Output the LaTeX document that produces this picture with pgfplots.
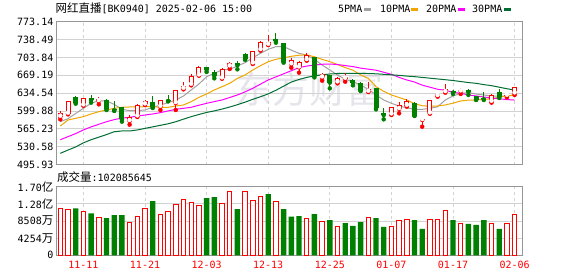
\documentclass[border=0pt]{standalone}
\usepackage{fontspec}
\setmainfont{DejaVu Sans Mono}
\newfontfamily\cjk{Noto Sans CJK SC}
\usepackage{pgfplots}
\usepackage{pgfplotstable}
\pgfplotsset{compat=1.18}
\definecolor{upc}{RGB}{255,0,0}
\definecolor{dnc}{RGB}{0,128,0}
\definecolor{ma5c}{RGB}{160,160,160}
\definecolor{ma10c}{RGB}{240,165,0}
\definecolor{ma20c}{RGB}{255,0,255}
\definecolor{ma30c}{RGB}{0,110,50}
\definecolor{gridc}{RGB}{210,210,210}
\definecolor{framec}{RGB}{150,150,150}
\definecolor{wmc}{RGB}{229,229,235}
\newcommand{\cj}[1]{{\cjk\fontsize{11.5}{12}\selectfont #1}}

% i open high low close
\pgfplotstableread{
i o h l c
0 588.8 599.8 583.6 595.9
1 594.6 619.8 593.3 618.5
3 610.8 625.0 610.1 624.4
5 619.2 626.3 612.7 623.1
9 580.4 592.0 573.3 588.8
10 589.4 613.4 588.1 612.1
11 612.7 621.8 611.4 619.2
13 608.2 621.8 601.7 620.5
15 615.3 641.2 601.7 639.9
16 643.1 655.4 641.8 647.7
17 650.9 671.6 649.6 667.7
18 669.0 687.1 668.4 685.8
21 663.2 682.6 662.5 682.0
22 686.5 695.5 681.3 692.3
25 692.3 716.9 691.0 715.6
26 718.2 735.6 716.9 733.1
27 728.5 747.3 727.9 733.7
30 690.7 702.0 683.9 699.0
31 684.5 696.8 674.2 694.9
32 698.8 711.7 697.5 708.0
34 665.1 672.9 658.7 672.3
36 655.4 665.1 653.5 663.9
37 662.6 672.9 656.7 665.1
40 637.3 656.7 636.7 641.9
43 593.3 608.2 592.0 606.9
44 603.7 617.9 595.3 611.5
45 610.2 622.5 608.2 619.2
47 582.3 588.8 569.4 584.9
48 595.3 621.2 594.6 620.5
49 628.9 634.7 627.6 632.8
50 636.7 652.2 635.4 641.9
52 638.0 644.5 632.8 639.9
56 617.9 632.8 616.0 631.5
58 629.6 634.7 626.3 631.5
59 634.1 647.0 630.9 645.7
}\redc
\pgfplotstableread{
i o h l c
2 627.0 628.9 614.0 616.0
4 624.4 630.2 616.0 621.1
6 621.1 623.1 601.7 603.7
7 603.7 619.8 599.8 601.1
8 606.9 608.2 579.1 583.6
12 617.9 628.9 605.6 606.9
14 621.8 630.8 618.5 619.2
19 684.5 685.2 675.5 680.0
20 676.1 679.4 663.2 668.4
23 692.3 696.8 680.7 688.4
24 709.8 713.0 698.8 700.7
28 739.5 751.8 732.4 735.6
29 731.1 731.1 693.6 695.5
33 705.0 705.3 665.1 667.7
35 669.7 669.7 643.8 654.8
38 660.0 661.3 649.6 654.8
39 654.8 656.7 638.6 639.3
41 643.8 645.1 603.0 605.0
42 596.6 605.0 583.6 592.0
46 616.0 617.9 590.1 590.7
51 639.3 640.6 632.8 635.4
53 640.6 642.5 630.9 636.7
54 628.3 629.6 621.2 621.8
55 625.7 636.0 621.2 622.5
57 636.7 641.9 625.0 626.3
}\greenc
% moving averages
\pgfplotstableread{
i a5 a10 a20 a30
0 579.0 570.7 544.0 517.6
1 585.0 582.3 550.0 524.0
2 595.0 585.6 556.0 530.0
3 605.0 588.8 563.0 538.0
4 614.7 594.0 569.0 544.0
5 619.9 598.5 574.0 549.0
6 619.2 601.8 579.0 554.0
7 612.7 605.0 583.0 559.5
8 603.0 607.0 586.0 561.0
9 600.5 607.6 587.5 561.0
10 600.5 607.6 590.0 563.0
11 601.8 608.2 592.0 566.0
12 606.9 608.2 594.0 569.0
13 611.5 606.9 596.6 572.0
14 616.0 606.9 600.0 575.0
15 621.2 609.5 603.0 579.0
16 628.9 611.5 605.0 584.0
17 640.6 617.9 607.0 588.8
18 652.2 626.3 611.0 593.0
19 666.4 632.8 614.7 597.0
20 672.9 640.6 618.0 600.0
21 679.4 647.0 621.2 603.5
22 680.7 653.5 626.0 607.5
23 687.1 663.2 630.9 612.0
24 693.6 669.7 637.0 617.0
25 703.3 679.4 643.8 622.5
26 711.7 687.8 652.0 627.5
27 719.5 695.5 660.0 633.0
28 724.7 700.1 666.0 640.0
29 724.7 703.0 672.0 648.0
30 718.0 706.0 678.0 656.0
31 711.7 708.0 684.0 661.0
32 708.5 709.0 687.0 665.0
33 700.1 705.0 689.0 668.0
34 689.1 700.0 690.5 670.0
35 679.4 695.6 691.0 671.6
36 669.7 690.0 690.0 672.5
37 661.3 684.0 688.0 673.0
38 656.7 679.0 686.0 673.0
39 650.3 670.0 683.0 673.0
40 641.9 663.0 681.0 672.5
41 630.9 647.0 679.0 672.0
42 621.2 638.0 675.0 671.0
43 614.7 631.0 671.0 670.0
44 609.5 626.0 665.0 669.0
45 606.0 621.2 660.0 667.5
46 603.0 614.0 656.0 666.5
47 603.0 610.0 650.0 665.0
48 605.0 609.0 646.0 663.5
49 608.0 609.5 642.0 662.0
50 621.2 611.5 640.0 660.5
51 628.9 615.0 636.0 659.0
52 634.1 619.2 634.0 657.0
53 635.4 621.0 631.0 655.0
54 632.8 621.2 629.0 653.5
55 630.9 622.5 627.0 651.0
56 628.9 623.5 625.0 649.0
57 628.9 626.5 623.5 646.0
58 628.9 629.0 622.0 643.0
59 630.9 630.9 621.0 640.5
}\ma
% volume in units of 10^4 shares
\pgfplotstableread{
i v
0 11647
1 11399
3 10903
5 9416
9 8260
10 9664
11 11647
13 10160
14 10986
15 12720
16 13877
17 13216
18 12390
21 12886
22 15859
24 15859
25 13629
26 14620
28 13464
32 9251
34 8508
36 7186
40 9416
43 7021
44 8673
45 8921
48 8921
49 8921
50 11234
52 7930
56 7930
58 7930
59 10208
}\redv
\pgfplotstableread{
i v
2 11647
4 10408
6 9251
7 9995
8 9995
12 13464
19 14207
20 14455
23 11481
27 15198
29 11481
30 9582
31 9747
33 10242
35 8756
37 8012
38 7269
39 8260
41 9251
42 7021
46 8756
47 6525
51 8756
53 7764
54 7517
55 8756
57 6525
}\greenv

\pgfplotsset{
  kframe/.style={
    scale only axis, width=466pt,
    xmin=-0.56, xmax=59.96,
    axis line style={draw=framec, line width=0.9pt},
    major tick length=0pt,
    xtick={3,11,19,27,35,43,51,59},
    xmajorgrids, ymajorgrids,
    x grid style={draw=gridc, line width=0.8pt, dash pattern=on 3pt off 3pt},
    y grid style={draw=gridc, line width=0.8pt},
    tick label style={font=\fontsize{10}{12}\selectfont},
    yticklabel style={inner sep=0pt, xshift=-2.5pt},
    scaled y ticks=false,
  },
  candle/.style 2 args={color=#1, only marks, mark=none, forget plot,
    error bars/.cd, y dir=plus, y explicit, error mark=none,
    error bar style={color=#1, line width=#2, solid}},
}

\begin{document}
\begin{tikzpicture}[x=1pt,y=1pt]
\path[use as bounding box] (0,0) rectangle (578,276);
% watermark
\node[text=wmc, inner sep=0pt] at (309,187) {\cjk\fontsize{37}{37}\selectfont 东方财富};
% title
\node[anchor=base west, inner sep=0pt] at (55.5,263.8) {\cj{网红直播}[BK0940] 2025-02-06 15:00};
% legend
\node[anchor=base west, inner sep=0pt] at (338,263.8) {5PMA};
\fill[ma5c] (364,264.5) rectangle (371,268);
\node[anchor=base west, inner sep=0pt] at (380,263.8) {10PMA};
\fill[ma10c] (411,264.5) rectangle (418,268);
\node[anchor=base west, inner sep=0pt] at (426,263.8) {20PMA};
\fill[ma20c] (458,264.5) rectangle (465,268);
\node[anchor=base west, inner sep=0pt] at (472,263.8) {30PMA};
\fill[ma30c] (504,264.5) rectangle (511,268);
% volume caption
\node[anchor=base west, inner sep=0pt] at (57,94.8) {\cj{成交量}:102085645};

\begin{axis}[kframe, at={(56pt,111.5pt)}, anchor=south west, height=142.8pt,
  ymin=495.93, ymax=773.14,
  xticklabels={},
  ytick={495.93,530.58,565.23,599.88,634.54,669.19,703.84,738.49,773.14},
  yticklabels={495.93,530.58,565.23,599.88,634.54,669.19,703.84,738.49,773.14},
]
\addplot[ma5c, line width=1pt, no marks] table[x=i,y=a5] {\ma};
\addplot[ma10c, line width=1pt, no marks] table[x=i,y=a10] {\ma};
\addplot[ma20c, line width=1pt, no marks] table[x=i,y=a20] {\ma};
\addplot[ma30c, line width=1pt, no marks] table[x=i,y=a30] {\ma};
% red (up) candles
\addplot[candle={upc}{1pt}] table[x=i, y=l, y error plus expr=\thisrow{h}-\thisrow{l}] {\redc};
\addplot[candle={upc}{5pt}] table[x=i, y=o, y error plus expr=\thisrow{c}-\thisrow{o}] {\redc};
\addplot[candle={white}{3pt}] table[x=i, y expr=\thisrow{o}+1.9, y error plus expr={max(\thisrow{c}-\thisrow{o}-3.8,0)}] {\redc};
% green (down) candles
\addplot[candle={dnc}{1pt}] table[x=i, y=l, y error plus expr=\thisrow{h}-\thisrow{l}] {\greenc};
\addplot[candle={dnc}{5pt}] table[x=i, y=c, y error plus expr=\thisrow{o}-\thisrow{c}] {\greenc};
\end{axis}

\begin{axis}[kframe, at={(56pt,20.7pt)}, anchor=south west, height=68.6pt,
  ymin=0, ymax=17016,
  ytick={0,4254,8508,12762,17016},
  yticklabels={0,4254\cj{万},8508\cj{万},1.28\cj{亿},1.70\cj{亿}},
  xticklabels={11-11,11-21,12-03,12-13,12-25,01-07,01-17,02-06},
  xticklabel style={text=upc, yshift=-2.5pt},
]
\addplot[ybar, bar width=4.4pt, bar shift=0pt, draw=upc, fill=white, line width=1pt] table[x=i,y=v] {\redv};
\addplot[ybar, bar width=5.4pt, bar shift=0pt, draw=none, fill=dnc] table[x=i,y=v] {\greenv};
\end{axis}
\end{tikzpicture}
\end{document}
